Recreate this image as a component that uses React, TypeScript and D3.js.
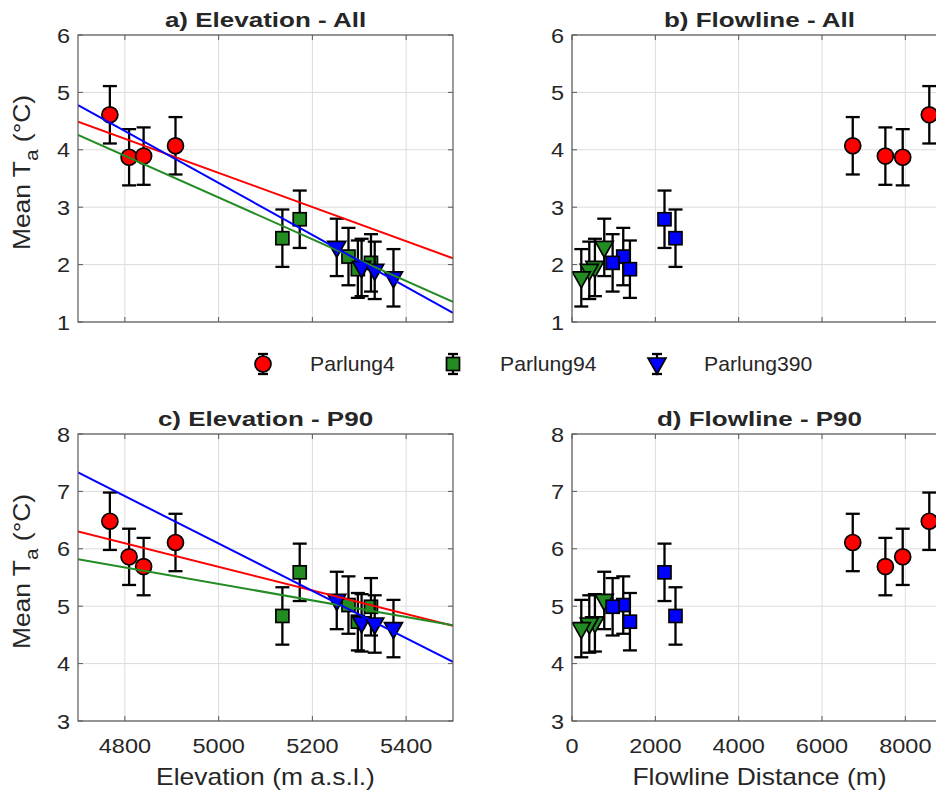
import React, { useEffect, useRef } from "react";
import * as d3 from "d3";

// Parlung4 (red circles)
const elev4 = [4768, 4809, 4840, 4908];
const flow4 = [8575, 7937, 7521, 6738];
const allT4 = [4.61, 3.87, 3.89, 4.07];
const p90T4 = [6.48, 5.86, 5.69, 6.11];
const err4 = [0.5, 0.49, 0.5, 0.5];

// Parlung94 (squares)
const elev94 = [5136, 5173, 5277, 5297, 5325];
const flow94 = [2484, 2220, 1230, 1390, 975];
const allT94 = [2.46, 2.79, 2.14, 1.92, 2.03];
const p90T94 = [4.83, 5.59, 5.02, 4.73, 4.99];
const err94 = [0.5, 0.5, 0.5, 0.5, 0.5];

// Parlung390 (down triangles)
const elev390 = [5252, 5305, 5333, 5373];
const flow390 = [774, 550, 415, 223];
const allT390 = [2.3, 1.95, 1.9, 1.77];
const p90T390 = [5.1, 4.71, 4.69, 4.61];
const err390 = [0.5, 0.5, 0.5, 0.5];

// regression lines: value at 4700 m and at 5500 m
const fitAll = { red: [4.49, 2.11], green: [4.26, 1.35], blue: [4.78, 1.16] };
const fitP90 = { red: [6.3, 4.66], green: [5.82, 4.67], blue: [7.33, 4.03] };

const elevTicks = [4800, 5000, 5200, 5400];
const flowTicks = [0, 2000, 4000, 6000, 8000];
const allTicks = [1, 2, 3, 4, 5, 6];
const p90Ticks = [3, 4, 5, 6, 7, 8];

const legendNames = ["Parlung4", "Parlung94", "Parlung390"];

const RED = "#ff0000";
const GREEN = "#228b22";
const BLUE = "#0000ff";
const FONT = "'Liberation Sans', Arial, sans-serif";

function drawMarker(g: any, shape: string, x: number, y: number, fill: string) {
  if (shape === "circle") {
    g.append("circle").attr("cx", x).attr("cy", y).attr("r", 8)
      .attr("fill", fill).attr("stroke", "#000").attr("stroke-width", 1.7);
  } else if (shape === "square") {
    g.append("rect").attr("x", x - 6.5).attr("y", y - 6.5).attr("width", 13).attr("height", 13)
      .attr("fill", fill).attr("stroke", "#000").attr("stroke-width", 1.7);
  } else {
    g.append("path").attr("d", `M${x - 9},${y - 6} L${x + 9},${y - 6} L${x},${y + 10} Z`)
      .attr("fill", fill).attr("stroke", "#000").attr("stroke-width", 1.7);
  }
}

function drawErr(g: any, x: number, y1: number, y2: number, cap: number) {
  g.append("line").attr("x1", x).attr("x2", x).attr("y1", y1).attr("y2", y2)
    .attr("stroke", "#000").attr("stroke-width", 2.3);
  [y1, y2].forEach((yy) => {
    g.append("line").attr("x1", x - cap).attr("x2", x + cap).attr("y1", yy).attr("y2", yy)
      .attr("stroke", "#000").attr("stroke-width", 2.3);
  });
}

function addText(g: any, x: number, y: number, s: string, size: number, sx: number, anchor = "middle", bold = false) {
  return g.append("text")
    .attr("transform", `translate(${x},${y}) scale(${sx},1)`)
    .attr("text-anchor", anchor)
    .attr("font-family", FONT)
    .attr("font-size", size)
    .attr("font-weight", bold ? "bold" : "normal")
    .attr("fill", "#262626")
    .text(s);
}

export default function App() {
  const ref = useRef<SVGSVGElement>(null);

  useEffect(() => {
    const svg = d3.select(ref.current);
    svg.selectAll("*").remove();

    const pw = 375, ph = 287;
    const panels = [
      { left: 78, top: 35, xd: [4700, 5500], yd: [1, 6], xt: elevTicks, yt: allTicks, title: "a) Elevation - All",
        series: [
          { x: elev4, y: allT4, e: err4, shape: "circle", fill: RED },
          { x: elev94, y: allT94, e: err94, shape: "square", fill: GREEN },
          { x: elev390, y: allT390, e: err390, shape: "tri", fill: BLUE },
        ], fit: fitAll, xlab: null },
      { left: 572, top: 35, xd: [0, 9000], yd: [1, 6], xt: flowTicks, yt: allTicks, title: "b) Flowline - All",
        series: [
          { x: flow4, y: allT4, e: err4, shape: "circle", fill: RED },
          { x: flow390, y: allT390, e: err390, shape: "tri", fill: GREEN },
          { x: flow94, y: allT94, e: err94, shape: "square", fill: BLUE },
        ], fit: null, xlab: null },
      { left: 78, top: 434, xd: [4700, 5500], yd: [3, 8], xt: elevTicks, yt: p90Ticks, title: "c) Elevation - P90",
        series: [
          { x: elev4, y: p90T4, e: err4, shape: "circle", fill: RED },
          { x: elev94, y: p90T94, e: err94, shape: "square", fill: GREEN },
          { x: elev390, y: p90T390, e: err390, shape: "tri", fill: BLUE },
        ], fit: fitP90, xlab: "Elevation (m a.s.l.)" },
      { left: 572, top: 434, xd: [0, 9000], yd: [3, 8], xt: flowTicks, yt: p90Ticks, title: "d) Flowline - P90",
        series: [
          { x: flow4, y: p90T4, e: err4, shape: "circle", fill: RED },
          { x: flow390, y: p90T390, e: err390, shape: "tri", fill: GREEN },
          { x: flow94, y: p90T94, e: err94, shape: "square", fill: BLUE },
        ], fit: null, xlab: "Flowline Distance (m)" },
    ];

    panels.forEach((p, pi) => {
      const x = d3.scaleLinear().domain(p.xd).range([p.left, p.left + pw]);
      const y = d3.scaleLinear().domain(p.yd).range([p.top + ph, p.top]);
      const g = svg.append("g");

      g.append("rect").attr("x", p.left).attr("y", p.top).attr("width", pw).attr("height", ph).attr("fill", "#fff");

      // grid
      p.xt.forEach((t) => {
        g.append("line").attr("x1", x(t)).attr("x2", x(t)).attr("y1", p.top).attr("y2", p.top + ph)
          .attr("stroke", "#dcdcdc").attr("stroke-width", 1);
      });
      p.yt.forEach((t) => {
        g.append("line").attr("x1", p.left).attr("x2", p.left + pw).attr("y1", y(t)).attr("y2", y(t))
          .attr("stroke", "#dcdcdc").attr("stroke-width", 1);
      });

      const clip = `clip${pi}`;
      svg.append("clipPath").attr("id", clip).append("rect")
        .attr("x", p.left).attr("y", p.top).attr("width", pw).attr("height", ph);
      const plot = g.append("g").attr("clip-path", `url(#${clip})`);

      p.series.forEach((s) => {
        s.x.forEach((xv, i) => {
          drawErr(plot, x(xv), y(s.y[i] + s.e[i]), y(s.y[i] - s.e[i]), 7);
        });
        s.x.forEach((xv, i) => drawMarker(plot, s.shape, x(xv), y(s.y[i]), s.fill));
      });

      if (p.fit) {
        const lines: [string, number[]][] = [["red", p.fit.red], ["green", p.fit.green], ["blue", p.fit.blue]];
        const col: any = { red: RED, green: GREEN, blue: BLUE };
        lines.forEach(([k, v]) => {
          const ln = d3.line<number>().x((d, i) => x(p.xd[i])).y((d) => y(d));
          plot.append("path").attr("d", ln(v)).attr("fill", "none").attr("stroke", col[k]).attr("stroke-width", 2);
        });
      }

      // box + ticks
      g.append("rect").attr("x", p.left).attr("y", p.top).attr("width", pw).attr("height", ph)
        .attr("fill", "none").attr("stroke", "#5a5a5a").attr("stroke-width", 1.2);
      const tl = 5;
      p.xt.forEach((t) => {
        g.append("line").attr("x1", x(t)).attr("x2", x(t)).attr("y1", p.top + ph).attr("y2", p.top + ph - tl).attr("stroke", "#5a5a5a");
        g.append("line").attr("x1", x(t)).attr("x2", x(t)).attr("y1", p.top).attr("y2", p.top + tl).attr("stroke", "#5a5a5a");
      });
      p.yt.forEach((t) => {
        g.append("line").attr("x1", p.left).attr("x2", p.left + tl).attr("y1", y(t)).attr("y2", y(t)).attr("stroke", "#5a5a5a");
        g.append("line").attr("x1", p.left + pw).attr("x2", p.left + pw - tl).attr("y1", y(t)).attr("y2", y(t)).attr("stroke", "#5a5a5a");
      });

      p.yt.forEach((t) => {
        addText(g, p.left - 8, y(t) + 7.5, String(t), 21, 1.12, "end");
      });
      if (p.xlab) {
        p.xt.forEach((t) => addText(g, x(t), p.top + ph + 32, String(t), 21, 1.12));
        addText(g, p.left + pw / 2, p.top + ph + 64, p.xlab, 23, 1.15);
      }
      addText(g, p.left + pw / 2, p.top - 8, p.title, 20, 1.3, "middle", true);

      if (p.left < 100) {
        const yl = g.append("text")
          .attr("transform", `translate(30,${p.top + ph / 2 - 6}) rotate(-90) scale(1.15,1)`)
          .attr("text-anchor", "middle")
          .attr("font-family", FONT).attr("font-size", 23).attr("fill", "#262626");
        yl.append("tspan").text("Mean T");
        yl.append("tspan").attr("dy", 8).attr("font-size", 18).text("a");
        yl.append("tspan").attr("dy", -8).text(" (\u00b0C)");
      }
    });

    // legend
    const lg = svg.append("g");
    const lx = [263, 453, 657];
    const shapes = ["circle", "square", "tri"];
    const fills = [RED, GREEN, BLUE];
    const ly = 364;
    legendNames.forEach((n, i) => {
      drawErr(lg, lx[i], ly - 10, ly + 10, 5);
      drawMarker(lg, shapes[i], lx[i], ly, fills[i]);
      addText(lg, lx[i] + 47, ly + 7, n, 20, 1.06, "start");
    });
  }, []);

  return (
    <svg ref={ref} width={936} height={796} style={{ position: "absolute", left: 0, top: 0, background: "#fff" }} />
  );
}
